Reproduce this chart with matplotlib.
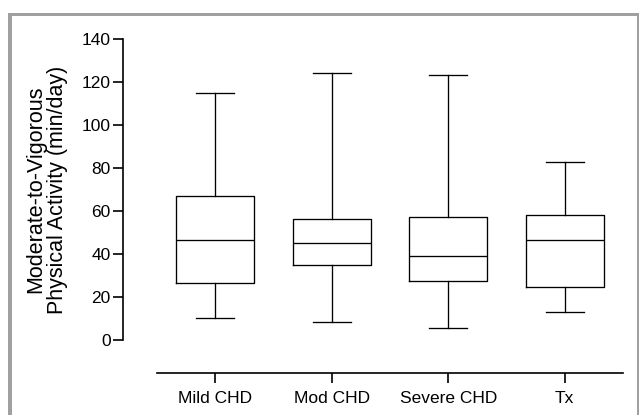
import matplotlib
matplotlib.use("Agg")
import matplotlib.pyplot as plt
from matplotlib.patches import Rectangle

categories = ["Mild CHD", "Mod CHD", "Severe CHD", "Tx"]
whisker_low = [10.4, 8.2, 5.7, 12.9]
q1 = [26.5, 35.0, 27.6, 24.8]
median = [46.4, 45.0, 39.0, 46.5]
q3 = [67.0, 56.3, 57.2, 58.1]
whisker_high = [115.0, 124.2, 123.3, 82.9]
yticks = [0, 20, 40, 60, 80, 100, 120, 140]

W, H = 639, 415
DPI = 100
plt.rcParams['font.family'] = ['Liberation Sans', 'DejaVu Sans']

fig = plt.figure(figsize=(W / DPI, H / DPI), dpi=DPI)
fig.patch.set_facecolor('white')

# frame
gray = '#a0a0a0'
fig.add_artist(Rectangle((8 / W, 1 - 16 / H), (638 - 8) / W, 3 / H,
                         transform=fig.transFigure, color=gray, lw=0))
fig.add_artist(Rectangle((8 / W, 0), 4 / W, 1 - 13 / H,
                         transform=fig.transFigure, color=gray, lw=0))
fig.add_artist(Rectangle((637 / W, 0), 1.5 / W, 1 - 13 / H,
                         transform=fig.transFigure, color=gray, lw=0))

ax_left, ax_right = 157, 623
ax_top, ax_bot = 39, 340
ax = fig.add_axes([ax_left / W, 1 - ax_bot / H, (ax_right - ax_left) / W, (ax_bot - ax_top) / H])
ax.set_facecolor('none')

stats = []
for i, c in enumerate(categories):
    stats.append(dict(label=c, whislo=whisker_low[i], q1=q1[i], med=median[i],
                      q3=q3[i], whishi=whisker_high[i], fliers=[]))

positions = list(range(1, len(categories) + 1))
lw = 0.95
ax.bxp(stats, positions=positions, widths=0.67, capwidths=0.326, showfliers=False,
       boxprops=dict(color='black', lw=lw),
       medianprops=dict(color='black', lw=lw),
       whiskerprops=dict(color='black', lw=lw),
       capprops=dict(color='black', lw=lw))

ax.set_xlim(0.5, 4.5)
ax.set_ylim(0, 140)
ax.set_yticks(yticks)
ax.set_xticks(positions)
ax.set_xticklabels(categories)

for s in ['top', 'right']:
    ax.spines[s].set_visible(False)
ax.spines['left'].set_position(('outward', (ax_left - 123) * 72 / DPI))
ax.spines['bottom'].set_position(('outward', (373 - ax_bot) * 72 / DPI))
ax.spines['left'].set_linewidth(1.2)
ax.spines['bottom'].set_linewidth(1.2)

ax.tick_params(axis='both', direction='out', length=7, width=1.2, labelsize=12.5,
               colors='black', pad=2)
ax.tick_params(axis='x', pad=6, labelsize=12.5)

ax.set_ylabel("Moderate-to-Vigorous\nPhysical Activity (min/day)", fontsize=15.5,
              linespacing=1.05)
ax.yaxis.set_label_coords((68 - ax_left) / (ax_right - ax_left), 0.5)

fig.savefig("out.png", dpi=DPI, facecolor='white')
